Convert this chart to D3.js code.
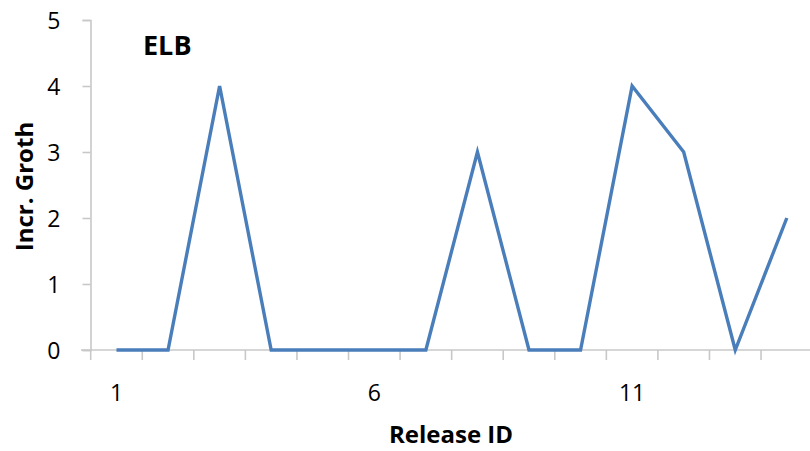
<!DOCTYPE html>
<html>
<head>
<meta charset="utf-8">
<script src="https://cdn.jsdelivr.net/npm/d3@7"></script>
<style>
  html, body { margin: 0; padding: 0; background: #fff; }
  svg { display: block; }
  text { font-family: "Open Sans", "Noto Sans", sans-serif; fill: #000; }
</style>
</head>
<body>
<svg id="chart" width="810" height="451"></svg>
<script>
// Release IDs and incremental growth per release
const releases = [1, 2, 3, 4, 5, 6, 7, 8, 9, 10, 11, 12, 13, 14];
const growth   = [0, 0, 4, 0, 0, 0, 0, 3, 0, 0, 4, 3, 0, 2];
const yTicks = [0, 1, 2, 3, 4, 5];
const xLabelled = [1, 6, 11];
const seriesName = "ELB";
const xTitle = "Release ID";
const yTitle = "Incr. Groth";

const svg = d3.select("#chart");
const axisColor = "#c8c8c8";
const lineColor = "#4a7ebb";

const x = d3.scaleBand().domain(releases).range([90.7, 812.6]).padding(0);
const y = d3.scaleLinear().domain([0, 5]).range([350, 20]);

// Y axis
const yAxis = svg.append("g")
  .attr("transform", "translate(90.5,0)")
  .call(d3.axisLeft(y).tickValues(yTicks).tickSize(8).tickPadding(22).tickFormat(d3.format("d")));
yAxis.select(".domain").attr("stroke", axisColor).attr("stroke-width", 1.6);
yAxis.selectAll(".tick line").attr("stroke", axisColor).attr("stroke-width", 1.6);
yAxis.selectAll(".tick text")
  .style("font-family", "'Open Sans', sans-serif")
  .style("font-size", "23px").attr("fill", "#000").attr("dy", "0.36em");

// X axis baseline
svg.append("line")
  .attr("x1", 81).attr("x2", 810)
  .attr("y1", y(0)).attr("y2", y(0))
  .attr("stroke", axisColor).attr("stroke-width", 1.6);

// Tick marks between categories
const boundaries = releases.map(r => x(r)).concat([x(releases[releases.length - 1]) + x.bandwidth()]);
svg.append("g").selectAll("line")
  .data(boundaries)
  .join("line")
  .attr("x1", d => d).attr("x2", d => d)
  .attr("y1", y(0)).attr("y2", y(0) + 10)
  .attr("stroke", axisColor).attr("stroke-width", 1.6);

// Category labels
svg.append("g").selectAll("text")
  .data(xLabelled)
  .join("text")
  .attr("x", d => x(d) + x.bandwidth() / 2)
  .attr("y", 401)
  .attr("text-anchor", "middle")
  .style("font-size", "23px")
  .text(d => d);

// Growth line
const line = d3.line()
  .x((d, i) => x(releases[i]) + x.bandwidth() / 2)
  .y(d => y(d));
svg.append("path")
  .datum(growth)
  .attr("d", line)
  .attr("fill", "none")
  .attr("stroke", lineColor)
  .attr("stroke-width", 3.4)
  .attr("stroke-linejoin", "miter");

// Series label
svg.append("text")
  .attr("x", 143).attr("y", 55)
  .style("font-size", "27px").style("font-weight", "bold")
  .text(seriesName);

// Axis titles
svg.append("text")
  .attr("x", 451).attr("y", 443)
  .attr("text-anchor", "middle")
  .style("font-size", "24px").style("font-weight", "bold")
  .text(xTitle);

svg.append("text")
  .attr("transform", "translate(33,186.5) rotate(-90)")
  .attr("text-anchor", "middle")
  .style("font-size", "24px").style("font-weight", "bold")
  .text(yTitle);
</script>
</body>
</html>
